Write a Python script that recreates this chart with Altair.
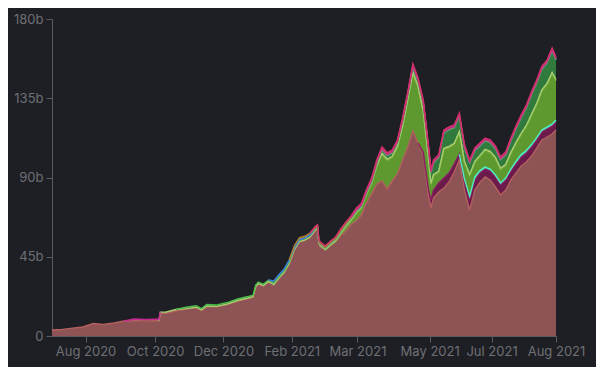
import altair as alt
import pandas as pd

# ---- data (values in billions) ----
dates = ["2020-08-04","2020-08-12","2020-08-20","2020-08-28","2020-09-05","2020-09-13","2020-09-21","2020-09-29",
         "2020-10-07","2020-10-15","2020-10-23","2020-10-26","2020-10-27","2020-10-31","2020-11-08","2020-11-16",
         "2020-11-24","2020-11-28","2020-12-02","2020-12-10","2020-12-18","2020-12-26","2021-01-03","2021-01-07",
         "2021-01-09","2021-01-11","2021-01-15","2021-01-19","2021-01-23","2021-01-27","2021-01-31","2021-02-04",
         "2021-02-08","2021-02-12","2021-02-16","2021-02-20","2021-02-24","2021-02-26","2021-02-27","2021-02-28",
         "2021-03-04","2021-03-08","2021-03-12","2021-03-16","2021-03-20","2021-03-24","2021-03-28","2021-04-01",
         "2021-04-05","2021-04-09","2021-04-13","2021-04-17","2021-04-21","2021-04-25","2021-04-29","2021-05-03",
         "2021-05-07","2021-05-11","2021-05-15","2021-05-19","2021-05-23","2021-05-25","2021-05-27","2021-05-31",
         "2021-06-04","2021-06-08","2021-06-12","2021-06-16","2021-06-20","2021-06-24","2021-06-28","2021-07-02",
         "2021-07-06","2021-07-10","2021-07-14","2021-07-18","2021-07-22","2021-07-26","2021-07-30","2021-08-03",
         "2021-08-07","2021-08-11","2021-08-15","2021-08-19","2021-08-23","2021-08-27","2021-08-30"]

base = [3.4, 3.7, 4.5, 5.1, 7.1, 6.5, 7.4, 8.5, 8.8, 8.6, 8.7, 8.7, 12.7, 12.7, 14.2, 15.3,
        16.1, 14.5, 16.8, 16.6, 17.9, 19.9, 21.3, 22.1, 27.8, 29.5, 28.4, 30.7, 29.0, 32.6, 35.8, 40.9,
        48.8, 53.4, 54.2, 55.9, 59.6, 60.8, 52.8, 51.1, 48.8, 51.4, 53.4, 57.1, 59.6, 63.3, 65.3, 68.7,
        75.5, 80.6, 86.3, 88.0, 83.5, 88.0, 92.0, 99.9, 107.3, 116.4, 109.6, 103.3, 80.1, 72.7, 78.4, 81.8,
        84.0, 87.4, 93.1, 99.9, 82.9, 71.5, 82.9, 87.4, 90.3, 88.6, 84.6, 80.1, 82.9, 88.6, 92.6, 96.5,
        98.8, 102.2, 106.7, 111.3, 113.0, 114.7, 117.0]

# each series: first date it appears, then its values from that date on
maroon_start = "2021-05-15"
maroon = [0, 1.1, 3.4, 4.5, 4.5, 5.1, 5.7, 5.1, 4.5, 3.4, 5.1, 6.2, 5.7, 5.1, 4.5, 5.1, 5.7, 5.7,
          5.7, 5.1, 5.1, 5.1, 5.1, 5.1, 4.5, 4.5, 4.5, 4.5, 4.5]

cyan_start = "2021-06-16"
cyan = [0, 1.1, 1.7, 1.7, 1.4, 1.1, 1.1, 1.1, 1.1, 1.1, 1.1, 1.4, 1.4, 1.4, 1.4, 1.4, 1.1, 1.1, 1.1, 1.1]

green_start = "2021-03-04"
green = [0, 0.1, 0.4, 0.6, 2.0, 1.7, 4.0, 3.4, 4.5, 5.7, 9.7, 14.8, 15.9, 13.1, 14.8, 18.7, 26.1,
         32.4, 31.2, 22.7, 17.0, 8.5, 7.9, 5.7, 15.9, 14.2, 10.8, 11.9, 9.1, 11.4, 7.9, 7.7, 9.1,
         9.1, 9.1, 7.4, 6.8, 8.5, 9.9, 11.1, 13.3, 16.2, 18.5, 21.9, 23.8, 28.4, 22.1]

yellow_start = "2021-03-12"
yellow = [0, 0.6, 0.7, 0.7, 0.7, 0.7, 0.7, 0.7, 0.7, 0.7, 0.7, 0.7, 0.7, 0.7, 0.7, 0.7,
          0.7, 0.7, 0.7, 0.7, 0.7, 0.7, 0.7, 0.7, 0.7, 0.7, 0.7, 0.7, 0.7, 0.7, 0.7, 0.7,
          0.7, 0.7, 0.7, 0.7, 0.7, 0.7, 0.7, 0.7, 0.7, 0.7, 0.7, 0.7, 0.7]

lightgreen_start = "2020-10-26"
lightgreen = [0, 0.85, 0.85, 0.85, 0.25, 0.25, 0.25, 0.25, 0.25, 0.25, 0.25, 0.25, 0.25, 0.25, 0.25, 0.25,
              0.25, 0.25, 0.25, 0.25, 0.25, 0.25, 0.25, 0.25, 0.25, 0.25, 0.25, 0.25, 0.25, 0.25, 0.25, 0.25,
              0.25, 0.25, 0.25, 0.25, 0.25, 0.25, 0.25, 0.25, 0.25, 0.25, 0.25, 0.25, 0.25, 0.25, 0.25, 0.25,
              0.25, 0.25, 0.25, 0.25, 0.25, 0.25, 0.25, 0.25, 0.25, 0.25, 0.25, 0.25, 0.25, 0.25, 0.25, 0.25,
              0.25, 0.25, 0.25, 0.25, 0.25, 0.25, 0.25, 0.25, 0.25, 0.25, 0.25, 0.25]

green2_start = "2020-11-08"
green2 = [0, 0.85, 0.85, 0.85, 0.85, 0.85, 0.85, 0.85, 0.85, 0.85, 0.85, 0.85, 0.85, 0.85, 0.85, 0.85,
          0.85, 0.85, 0.85, 0.85, 0.85, 0.85, 0.85, 0.85, 0.85, 0.85, 0.85, 0.85, 0.85, 0.85, 0.85, 0.85,
          0.6, 0.6, 0.6, 0.85, 1.4, 2.0, 2.0, 2.0, 2.0, 2.6, 2.6, 3.1, 3.1, 4.3, 5.4, 6.0,
          6.5, 7.7, 8.8, 9.4, 8.8, 8.8, 7.7, 6.5, 6.0, 5.4, 4.8, 4.8, 4.8, 4.8, 5.4, 6.5,
          7.7, 8.8, 9.9, 11.1, 11.6, 11.6, 11.6, 12.2, 11.1]

blue_start = "2021-01-19"
blue = [0, 1.1, 1.1, 1.1, 1.1, 0.25, 0.25, 0.25, 0.25, 0.25, 0.25, 0.25, 0.25, 0.25, 0.25, 0.25,
        0.25, 0.25, 0.25, 0.25, 0.25, 0.25, 0.25, 0.25, 0.25, 0.25, 0.25, 0.25, 0.25, 0.25, 0.25, 0.25,
        0.25, 0.25, 0.25, 0.25, 0.25, 0.25, 0.25, 0.25, 0.25, 0.25, 0.25, 0.25, 0.25, 0.25, 0.25, 0.25,
        0.25, 0.25, 0.25, 0.25, 0.25, 0.25, 0.25, 0.25, 0.25, 0.25, 0.25, 0.25]

orange_start = "2021-02-04"
orange = [0, 1.1, 1.1, 1.1, 1.1, 0.25, 0.25, 0.25, 0.25, 0.25, 0.25, 0.25, 0.25, 0.25, 0.25, 0.25,
          0.25, 0.25, 0.25, 0.25, 0.25, 0.25, 0.25, 0.25, 0.25, 0.25, 0.25, 0.25, 0.25, 0.25, 0.25, 0.25,
          0.25, 0.25, 0.25, 0.25, 0.25, 0.25, 0.25, 0.25, 0.25, 0.25, 0.25, 0.25, 0.25, 0.25, 0.25, 0.25,
          0.25, 0.25, 0.25, 0.25, 0.25, 0.25, 0.25, 0.25]

magenta_start = "2020-09-29"
magenta = [0, 0.85, 0.85, 0.85, 0.85, 0, 0, 0, 0, 0, 0, 0, 0, 0, 0, 0,
           0, 0, 0, 0, 0, 0, 0, 0, 0, 0, 0, 0, 0, 0, 0, 0,
           0, 0, 0, 0, 0, 0, 0, 0.35, 0.35, 0.35, 0.35, 0.35, 0.35, 0.35, 0.35, 0.35,
           0.35, 0.35, 0.35, 0.35, 0.35, 0.35, 0.35, 0.35, 0.35, 0.35, 0.35, 0.35, 0.35, 0.35, 0.35, 0.35,
           0.35, 0.35, 0.35, 0.35, 0.35, 0.35, 0.35, 0.35, 0.35, 0.35, 0.35, 0.35, 0.35, 0.35, 0.35, 0.35]

pink_start = "2021-02-20"
pink = [0, 0.85, 0.85, 0.85, 0.85, 0.85, 0.85, 0.85, 0.85, 0.85, 0.85, 0.85, 0.85, 0.85, 0.85, 0.85,
        0.85, 0.85, 0.85, 0.85, 0.85, 0.85, 0.85, 0.85, 0.85, 0.85, 0.85, 0.85, 0.85, 0.85, 0.85, 0.85,
        0.85, 0.85, 0.85, 0.85, 0.85, 0.85, 0.85, 0.85, 0.85, 0.85, 0.85, 0.85, 0.85, 0.85, 0.85, 0.85,
        0.85, 0.85, 0.85, 0.85]

series_names = ["base", "maroon", "cyan", "green", "yellow", "lightgreen", "green2",
                "blue", "orange", "magenta", "pink"]
fill_colors = ["#8e5455", "#6a1a4b", "#38c9a4", "#5e992f", "#a9b85c", "#8fb866", "#2f7a3c",
               "#3565b8", "#8e6a2c", "#a3207a", "#b82a58"]
line_colors = ["#b3605f", "#8c1f62", "#4ef0c4", "#6aa834", "#c9cf74", "#a8cc70", "#4cba4a",
               "#3f7ae0", "#b08030", "#c52a93", "#d33068"]

x_ticks = ["2020-08-30", "2020-10-23", "2020-12-15", "2021-02-06",
           "2021-03-29", "2021-05-24", "2021-07-11", "2021-08-30"]
y_ticks = [0, 45, 90, 135, 180]

# ---- build the table (stacked bounds computed from the arrays above) ----
n = len(dates)

def full(start, vals):
    i0 = dates.index(start)
    out = [0.0] * i0 + list(vals)
    out = out[:n]
    while len(out) < n:
        out.append(out[-1])
    return out

series_vals = {
    "base": full(dates[0], base),
    "maroon": full(maroon_start, maroon),
    "cyan": full(cyan_start, cyan),
    "green": full(green_start, green),
    "yellow": full(yellow_start, yellow),
    "lightgreen": full(lightgreen_start, lightgreen),
    "green2": full(green2_start, green2),
    "blue": full(blue_start, blue),
    "orange": full(orange_start, orange),
    "magenta": full(magenta_start, magenta),
    "pink": full(pink_start, pink),
}

cum = [0.0] * n
area_rows, line_rows = [], []
for k, name in enumerate(series_names):
    v = series_vals[name]
    seg = 0
    prev_active = False
    for i in range(n):
        lo = cum[i]
        hi = lo + v[i]
        cum[i] = hi
        d = dates[i] + "T00:00:00"
        area_rows.append({"date": d, "series": name, "lo": lo, "hi": hi})
        active = v[i] > 0 or (i > 0 and v[i - 1] > 0) or (i < n - 1 and v[i + 1] > 0)
        if active:
            if not prev_active:
                seg += 1
            line_rows.append({"date": d, "series": name, "hi": hi, "seg": f"{name}-{seg}",
                              "dashed": name == "yellow"})
        prev_active = active

area_df = pd.DataFrame(area_rows)
line_df = pd.DataFrame(line_rows)

def dt(s):
    y, m, d = (int(p) for p in s.split("-"))
    return alt.DateTime(year=y, month=m, date=d)

label_color = "#6e6f75"
axis_color = "#5a5b60"

x_enc = alt.X("date:T",
              scale=alt.Scale(domain=[dt("2020-08-04"), dt("2021-08-30")], nice=False),
              axis=alt.Axis(values=[dt(s) for s in x_ticks], format="%b %Y", title=None,
                            grid=False, labelFlush=False, labelOverlap=False,
                            domainColor=axis_color, tickColor=axis_color, tickSize=6,
                            labelColor=label_color, labelFont="Inter", labelFontSize=13,
                            labelPadding=3))
y_scale = alt.Scale(domain=[0, 180], nice=False)
y_axis = alt.Axis(values=y_ticks, title=None, grid=False, labelFlush=False,
                  labelExpr="datum.value == 0 ? '0' : datum.value + 'b'",
                  domainColor=axis_color, tickColor=axis_color, tickSize=6,
                  labelColor=label_color, labelFont="Inter", labelFontSize=13, labelPadding=3)

stroke_scale = alt.Scale(domain=series_names, range=line_colors)

areas = alt.Chart(area_df).mark_area(interpolate="linear").encode(
    x=x_enc,
    y=alt.Y("hi:Q", scale=y_scale, axis=y_axis, stack=None),
    y2="lo:Q",
    fill=alt.Fill("series:N", scale=alt.Scale(domain=series_names, range=fill_colors), legend=None),
)

solid_lines = alt.Chart(line_df).transform_filter("!datum.dashed").mark_line(
    strokeWidth=1.4, interpolate="linear").encode(
    x=alt.X("date:T"),
    y=alt.Y("hi:Q", stack=None),
    stroke=alt.Stroke("series:N", scale=stroke_scale, legend=None),
    detail="seg:N",
)

dashed_lines = alt.Chart(line_df).transform_filter("datum.dashed").mark_line(
    strokeWidth=1.3, strokeDash=[3, 2], interpolate="linear").encode(
    x=alt.X("date:T"),
    y=alt.Y("hi:Q", stack=None),
    stroke=alt.Stroke("series:N", scale=stroke_scale, legend=None),
    detail="seg:N",
)

chart = alt.layer(areas, dashed_lines, solid_lines).properties(
    width=504, height=317,
    autosize=alt.AutoSizeParams(type="none"),
    padding={"left": 44, "top": 11, "right": 40, "bottom": 31},
    background="#1e1f24",
    usermeta={"embedOptions": {"defaultStyle": "body{background:#1e1f24;} .vega-embed{display:inline-block;}"}},
).configure_view(stroke=None)

chart.save("out.html", embed_options={"renderer": "svg", "actions": False})
